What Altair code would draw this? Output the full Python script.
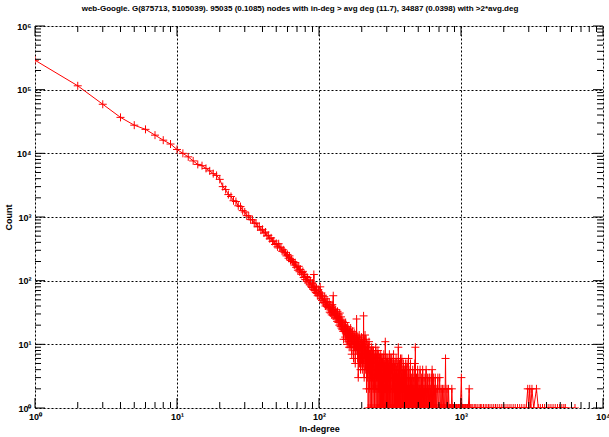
import altair as alt
import pandas as pd

TITLE = "web-Google. G(875713, 5105039). 95035 (0.1085) nodes with in-deg > avg deg (11.7), 34887 (0.0398) with >2*avg.deg"

# counts for consecutive in-degrees 1..300
counts_1_50 = [290000, 115000, 59000, 36700, 27700, 23800, 19300, 16100, 14000, 11500,
               10000, 8800, 7600, 6700, 6400, 5800, 5300, 4800, 4500, 3900,
               3000, 2700, 2250, 2100, 1800, 1750, 1500, 1460, 1260, 1200,
               1050, 1040, 910, 900, 800, 800, 700, 710, 620, 640,
               560, 580, 505, 515, 455, 470, 415, 420, 370, 385]
counts_51_100 = [340, 380, 325, 335, 290, 305, 280, 275, 245, 258,
                 225, 245, 208, 215, 200, 198, 176, 192, 162, 170,
                 146, 168, 138, 150, 126, 134, 140, 112, 125, 104,
                 116, 98, 112, 92, 103, 86, 100, 82, 78, 91,
                 73, 125, 70, 82, 65, 77, 63, 58, 72, 60]
counts_101_150 = [58, 80, 52, 64, 49, 59, 46, 45, 56, 45,
                  40, 52, 42, 39, 47, 38, 36, 45, 32, 40,
                  31, 38, 29, 42, 30, 58, 28, 36, 29, 26,
                  35, 25, 31, 23, 33, 27, 22, 29, 20, 31,
                  24, 19, 27, 18, 24, 17, 23, 16, 12, 22]
counts_151_200 = [16, 20, 13, 22, 12, 18, 15, 10, 19, 14,
                  11, 17, 9, 16, 13, 9, 18, 11, 15, 7,
                  12, 16, 10, 14, 6, 11, 15, 9, 13, 5,
                  10, 14, 8, 25, 9, 12, 6, 13, 3, 11,
                  7, 14, 5, 9, 12, 4, 10, 6, 13, 5]
counts_201_300 = [9, 4, 10, 12, 5, 28, 7, 3, 11, 6,
                  14, 4, 9, 5, 12, 2, 8, 6, 3, 10,
                  5, 1, 9, 4, 11, 2, 7, 5, 1, 8,
                  3, 7, 4, 1, 9, 2, 6, 3, 8, 1,
                  5, 8, 2, 6, 3, 1, 7, 4, 2, 6,
                  9, 1, 5, 3, 7, 2, 1, 6, 3, 8,
                  1, 5, 2, 7, 3, 1, 6, 2, 5, 3,
                  1, 7, 2, 4, 6, 1, 5, 2, 3, 1,
                  6, 2, 5, 1, 3, 7, 2, 1, 5, 3,
                  2, 1, 11, 2, 4, 1, 5, 2, 1, 6]

# sparse tail (in-degree, count)
tail_pairs = [
    (302, 2), (303, 5), (304, 1), (305, 6), (306, 3), (307, 1), (308, 4), (309, 5), (310, 2), (311, 1),
    (312, 3), (313, 7), (314, 1), (315, 4), (316, 2), (317, 1), (318, 5), (319, 2), (320, 6), (321, 1),
    (322, 3), (323, 4), (325, 6), (326, 1), (327, 2), (328, 5), (329, 4), (330, 1), (331, 3), (333, 2),
    (334, 6), (335, 7), (336, 1), (337, 3), (338, 2), (339, 5), (340, 1), (341, 4), (342, 2), (343, 1),
    (344, 5), (345, 3), (346, 1), (347, 2), (349, 6), (350, 2), (351, 1), (352, 4), (354, 1), (355, 3),
    (356, 5), (357, 2), (358, 1), (359, 3), (360, 1), (362, 9), (363, 1), (364, 2), (366, 4), (367, 3),
    (368, 1), (369, 5), (371, 1), (372, 2), (373, 4), (375, 6), (376, 1), (378, 3), (379, 1), (380, 2),
    (382, 5), (383, 6), (384, 1), (386, 3), (387, 1), (389, 4), (390, 2), (392, 1), (393, 5), (395, 2),
    (396, 1), (398, 3), (400, 1), (401, 4), (403, 2), (404, 1), (406, 5), (407, 1), (409, 3), (410, 2),
    (412, 1), (414, 4), (415, 1), (417, 5), (419, 1), (420, 2), (422, 1), (424, 3), (426, 1), (427, 6),
    (429, 1), (431, 3), (433, 1), (434, 2), (436, 1), (438, 4), (440, 1), (441, 5), (443, 1), (445, 2),
    (447, 1), (449, 3), (451, 1), (453, 2), (455, 1), (457, 4), (459, 1), (461, 2), (463, 1), (465, 3),
    (467, 1), (469, 2), (471, 1), (473, 5), (475, 1), (477, 9), (479, 1), (481, 2), (484, 1), (486, 3),
    (488, 1), (490, 2), (493, 1), (495, 4), (498, 1), (500, 2), (503, 1), (505, 3), (508, 1), (510, 2),
    (513, 1), (515, 4), (518, 1), (520, 2), (523, 1), (526, 3), (529, 1), (531, 2), (534, 1), (537, 4),
    (540, 1), (543, 2), (546, 1), (549, 3), (552, 1), (555, 2), (558, 1), (561, 3), (565, 1), (568, 4),
    (571, 1), (575, 2), (578, 1), (582, 3), (585, 1), (589, 2), (592, 1), (596, 3), (600, 1), (603, 3),
    (607, 1), (611, 2), (615, 1), (619, 3), (622, 1), (626, 4), (630, 1), (634, 3), (638, 1), (642, 3),
    (646, 1), (650, 2), (655, 1), (659, 3), (664, 1), (668, 2), (672, 1), (677, 1), (682, 2), (687, 3),
    (692, 1), (697, 1), (702, 2), (708, 3), (713, 1), (718, 1), (724, 2), (729, 1), (735, 1), (740, 2),
    (746, 1), (752, 1), (758, 2), (765, 1), (771, 1), (778, 6), (784, 1), (790, 1), (797, 2), (803, 1),
    (810, 1), (817, 2), (824, 1), (831, 1), (838, 1), (846, 1), (854, 1), (862, 2), (870, 1), (878, 1),
    (886, 1), (895, 1), (903, 1), (912, 1), (921, 1), (930, 1), (940, 1), (950, 1), (960, 1), (970, 1),
    (980, 1), (990, 1), (1006, 3), (1015, 1), (1025, 1), (1035, 1), (1045, 1), (1055, 1), (1066, 1),
    (1077, 1), (1088, 1), (1100, 1), (1111, 1), (1125, 1), (1142, 2), (1150, 1), (1160, 1),
    (1180, 1), (1210, 1), (1240, 1), (1270, 1), (1300, 1), (1340, 1), (1370, 1), (1400, 1), (1440, 1),
    (1480, 1), (1520, 1), (1560, 1), (1600, 1), (1650, 1), (1700, 1), (1750, 1), (1800, 1), (1860, 1),
    (1920, 1), (1980, 1), (2040, 1), (2110, 1), (2180, 1), (2250, 1), (2330, 1), (2410, 1), (2500, 1),
    (2590, 1), (2680, 1), (2780, 1), (2880, 1), (2950, 2), (3000, 1), (3050, 2), (3100, 1), (3160, 2),
    (3250, 1), (3400, 2), (3500, 1), (3620, 1), (3750, 1), (3880, 1), (4020, 1), (4160, 1), (4300, 1),
    (4450, 1), (4610, 1), (4780, 1), (4950, 1), (5130, 1), (5300, 1), (5430, 1), (6350, 1),
]
tail_deg = [p[0] for p in tail_pairs]
tail_cnt = [p[1] for p in tail_pairs]

degrees = list(range(1, 301)) + tail_deg
counts = counts_1_50 + counts_51_100 + counts_101_150 + counts_151_200 + counts_201_300 + tail_cnt

major_x = [1, 10, 100, 1000, 10000]
major_y = [1, 10, 100, 1000, 10000, 100000, 1000000]
minor_x = [m * d for d in [1, 10, 100, 1000] for m in range(2, 10)]
minor_y = [m * d for d in [1, 10, 100, 1000, 10000, 100000] for m in range(2, 10)]

df = pd.DataFrame({"deg": degrees, "cnt": counts})
W, H = 568, 382
FONT = "Liberation Sans"
SUP = "'10' + ['\u2070','\u00b9','\u00b2','\u00b3','\u2074','\u2075','\u2076'][round(log(datum.value)/LN10)]"

xs = alt.Scale(type="log", domain=[1, 10000], nice=False)
ys = alt.Scale(type="log", domain=[1, 1000000], nice=False)

def ax(vals, **kw):
    return alt.Axis(values=vals, labelExpr=SUP, grid=True, gridColor="black",
                    gridDash=[2, 2], gridOpacity=1, gridWidth=1, ticks=False, domain=False,
                    labelFont=FONT, labelFontSize=9, labelFontWeight="bold", labelColor="black",
                    labelPadding=4, titleFont=FONT, titleFontSize=9, titleFontWeight="bold",
                    titleColor="black", titlePadding=3, labelFlush=False, **kw)

base = alt.Chart(df)
line = base.mark_line(color="#ff0000", strokeWidth=1, clip=True).encode(
    x=alt.X("deg:Q", scale=xs, title="In-degree", axis=ax(major_x)),
    y=alt.Y("cnt:Q", scale=ys, title="Count", axis=ax(major_y)),
    order="deg:Q",
)
pts = base.mark_point(shape="M-1,0L1,0M0,-1L0,1", size=64, filled=False, color="#ff0000",
                      strokeWidth=1, opacity=1, clip=True).encode(
    x=alt.X("deg:Q", scale=xs), y=alt.Y("cnt:Q", scale=ys))

mx = pd.DataFrame({"v": minor_x})
my = pd.DataFrame({"v": minor_y})
MX = pd.DataFrame({"v": major_x})
MY = pd.DataFrame({"v": major_y})

def xticks(d, L):
    b = alt.Chart(d).mark_rule(color="black", strokeWidth=1)
    return [b.encode(x=alt.X("v:Q", scale=xs), y=alt.value(H), y2=alt.value(H - L)),
            b.encode(x=alt.X("v:Q", scale=xs), y=alt.value(0), y2=alt.value(L))]

def yticks(d, L):
    b = alt.Chart(d).mark_rule(color="black", strokeWidth=1)
    return [b.encode(y=alt.Y("v:Q", scale=ys), x=alt.value(0), x2=alt.value(L)),
            b.encode(y=alt.Y("v:Q", scale=ys), x=alt.value(W), x2=alt.value(W - L))]

layers = [line, pts] + xticks(mx, 6) + xticks(MX, 10) + yticks(my, 6) + yticks(MY, 10)

chart = alt.layer(*layers).properties(
    width=W, height=H,
    title=alt.Title(TITLE, font=FONT, fontSize=8, fontWeight="bold", color="black", offset=9, dx=-19),
    autosize=alt.AutoSizeParams(type="none"),
    padding={"left": 35, "top": 26, "right": 6, "bottom": 29},
).configure_view(stroke="black", strokeWidth=1.5).configure(background="white")

chart.save("out.html", embed_options={"renderer": "svg", "actions": False})
